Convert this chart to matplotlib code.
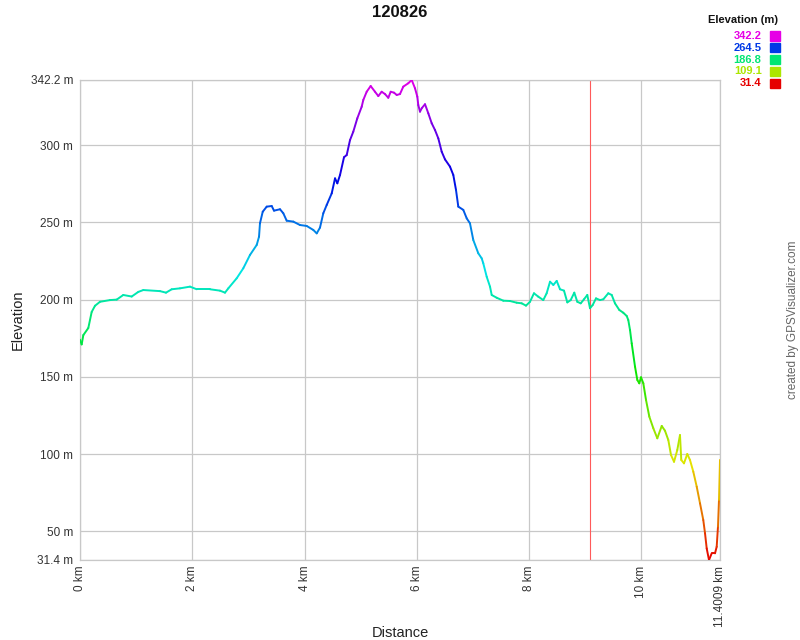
import colorsys

import numpy as np
import matplotlib
matplotlib.use("Agg")
import matplotlib.pyplot as plt
from matplotlib.collections import LineCollection

plt.rcParams["font.family"] = ["Liberation Sans", "DejaVu Sans"]

TITLE = "120826"
TOTAL_KM = 11.4009
ELEV_MIN = 31.4
ELEV_MAX = 342.2
MARKER_KM = 9.085

# profile (km, m)
dist_km = [
    0.000, 0.030, 0.059, 0.148, 0.208, 0.267, 0.356, 0.534, 0.654, 0.771,
    0.921, 1.039, 1.128, 1.425, 1.532, 1.634, 1.781, 1.960, 2.079, 2.316,
    2.494, 2.583, 2.642, 2.791, 2.909, 3.028, 3.148, 3.189, 3.206, 3.255,
    3.326, 3.415, 3.456, 3.563, 3.622, 3.682, 3.800, 3.919, 4.038, 4.156,
    4.217, 4.275, 4.334, 4.395, 4.484, 4.543, 4.584, 4.632, 4.703, 4.751,
    4.810, 4.868, 4.940, 5.018, 5.047, 5.107, 5.178, 5.255, 5.314, 5.374,
    5.433, 5.492, 5.535, 5.594, 5.642, 5.700, 5.759, 5.848, 5.909, 5.968,
    6.009, 6.026, 6.057, 6.087, 6.146, 6.205, 6.265, 6.324, 6.383, 6.443,
    6.502, 6.591, 6.650, 6.698, 6.739, 6.828, 6.889, 6.947, 7.006, 7.095,
    7.156, 7.184, 7.245, 7.304, 7.334, 7.423, 7.541, 7.660, 7.779, 7.868,
    7.945, 8.016, 8.087, 8.164, 8.253, 8.313, 8.373, 8.432, 8.492, 8.551,
    8.622, 8.681, 8.741, 8.805, 8.859, 8.920, 8.978, 9.037, 9.085, 9.133,
    9.192, 9.263, 9.322, 9.411, 9.472, 9.530, 9.607, 9.678, 9.739, 9.767,
    9.798, 9.828, 9.887, 9.928, 9.963, 9.994, 10.035, 10.083, 10.142, 10.213,
    10.284, 10.363, 10.421, 10.480, 10.528, 10.582, 10.640, 10.688, 10.711, 10.759,
    10.818, 10.866, 10.925, 10.986, 11.045, 11.103, 11.134, 11.164, 11.205, 11.253,
    11.312, 11.342, 11.365, 11.383, 11.401,
]
elev_m = [
    174.0, 171.0, 177.0, 181.6, 192.0, 196.0, 198.6, 199.7, 200.0, 203.0,
    202.0, 205.0, 206.2, 205.5, 204.5, 206.7, 207.3, 208.4, 206.7, 206.7,
    205.8, 204.5, 207.3, 213.8, 220.3, 228.9, 235.4, 240.7, 249.4, 256.9,
    260.2, 260.6, 257.6, 258.5, 255.9, 251.1, 250.5, 248.3, 247.7, 245.1,
    242.9, 246.6, 255.9, 261.3, 268.8, 278.5, 275.3, 280.7, 292.2, 293.6,
    303.3, 308.7, 317.4, 324.9, 329.3, 334.6, 338.3, 334.6, 331.8, 334.6,
    333.1, 330.7, 334.6, 334.0, 332.5, 333.1, 337.9, 340.1, 342.2, 336.8,
    331.4, 326.0, 321.7, 323.9, 326.5, 320.6, 314.2, 309.8, 304.4, 295.8,
    290.8, 286.1, 280.7, 271.0, 260.2, 258.1, 252.6, 249.4, 238.6, 230.0,
    226.7, 223.5, 214.8, 208.4, 203.0, 201.2, 199.3, 199.1, 198.0, 197.6,
    196.1, 198.6, 204.1, 201.9, 199.7, 204.1, 211.6, 209.5, 212.1, 206.7,
    205.8, 198.2, 199.7, 204.5, 198.6, 197.6, 200.2, 203.0, 194.4, 196.5,
    200.8, 199.7, 200.2, 204.1, 203.0, 197.6, 193.3, 191.5, 189.4, 186.8,
    180.3, 171.7, 156.6, 148.0, 145.8, 149.7, 145.8, 135.0, 124.2, 116.7,
    110.2, 118.2, 115.1, 109.1, 99.4, 95.0, 102.6, 112.3, 96.2, 94.0,
    100.0, 96.2, 88.6, 78.9, 68.1, 57.3, 48.7, 38.9, 31.4, 35.7,
    35.7, 40.0, 53.0, 70.3, 96.2,
]

x_ticks = [0, 2, 4, 6, 8, 10, TOTAL_KM]
x_tick_labels = ["0 km", "2 km", "4 km", "6 km", "8 km", "10 km", "11.4009 km"]
y_ticks = [ELEV_MIN, 50, 100, 150, 200, 250, 300, ELEV_MAX]
y_tick_labels = ["31.4 m", "50 m", "100 m", "150 m", "200 m", "250 m", "300 m", "342.2 m"]
legend_values = [342.2, 264.5, 186.8, 109.1, 31.4]


def elev_color(e):
    # red at the lowest point, round the hue wheel to magenta at the top
    frac = (e - ELEV_MIN) / (ELEV_MAX - ELEV_MIN)
    frac = min(max(frac, 0.0), 1.0)
    return colorsys.hsv_to_rgb(300.0 / 360.0 * frac, 1.0, 0.9)


fig = plt.figure(figsize=(8, 6.4), dpi=100)
ax = fig.add_axes([0.1, 0.125, 0.8, 0.75])

x = np.array(dist_km)
y = np.array(elev_m)
pts = np.column_stack([x, y]).reshape(-1, 1, 2)
segs = np.concatenate([pts[:-1], pts[1:]], axis=1)
seg_colors = [elev_color(v) for v in (y[:-1] + y[1:]) / 2]
ax.add_collection(LineCollection(segs, colors=seg_colors, linewidths=1.4,
                                 capstyle="round", joinstyle="round", zorder=3))

ax.axvline(MARKER_KM, color="#ff5a5a", lw=0.8, zorder=2)

ax.set_xlim(0, TOTAL_KM)
ax.set_ylim(ELEV_MIN, ELEV_MAX)
ax.set_xticks(x_ticks)
ax.set_xticklabels(x_tick_labels, rotation=90, fontsize=8.5, color="#333333")
ax.set_yticks(y_ticks)
ax.set_yticklabels(y_tick_labels, fontsize=8.5, color="#333333")
ax.tick_params(axis="y", length=0, pad=5)
ax.tick_params(axis="x", length=0, pad=4)
ax.grid(color="#c8c8c8", lw=0.9, zorder=0)
for sp in ax.spines.values():
    sp.set_color("#c8c8c8")
    sp.set_linewidth(0.9)

ax.set_xlabel("Distance", fontsize=10.5, color="#222222", va="center")
ax.xaxis.set_label_coords(0.5, -0.152)
ax.set_ylabel("Elevation", fontsize=10.5, color="#222222", va="center")
ax.yaxis.set_label_coords(-0.098, 0.5)

fig.text(0.5, 0.98, TITLE, ha="center", va="center", fontsize=12,
         fontweight="bold", color="#111111")

# elevation colour key, top right
fig.text(0.973, 0.968, "Elevation (m)", ha="right", va="center", fontsize=8,
         fontweight="bold", color="#111111")
for i, v in enumerate(legend_values):
    yy = 0.944 - i * 0.0185
    fig.text(0.952, yy, f"{v:.1f}", ha="right", va="center", fontsize=8,
             fontweight="bold", color=elev_color(v))
    fig.patches.append(plt.Rectangle((0.963, yy - 0.0075), 0.0115, 0.0145,
                                     transform=fig.transFigure,
                                     color=elev_color(v)))

fig.text(0.991, 0.5, "created by GPSVisualizer.com", rotation=90, ha="center",
         va="center", fontsize=8.5, color="#666666")

fig.savefig("out.png", dpi=100)
